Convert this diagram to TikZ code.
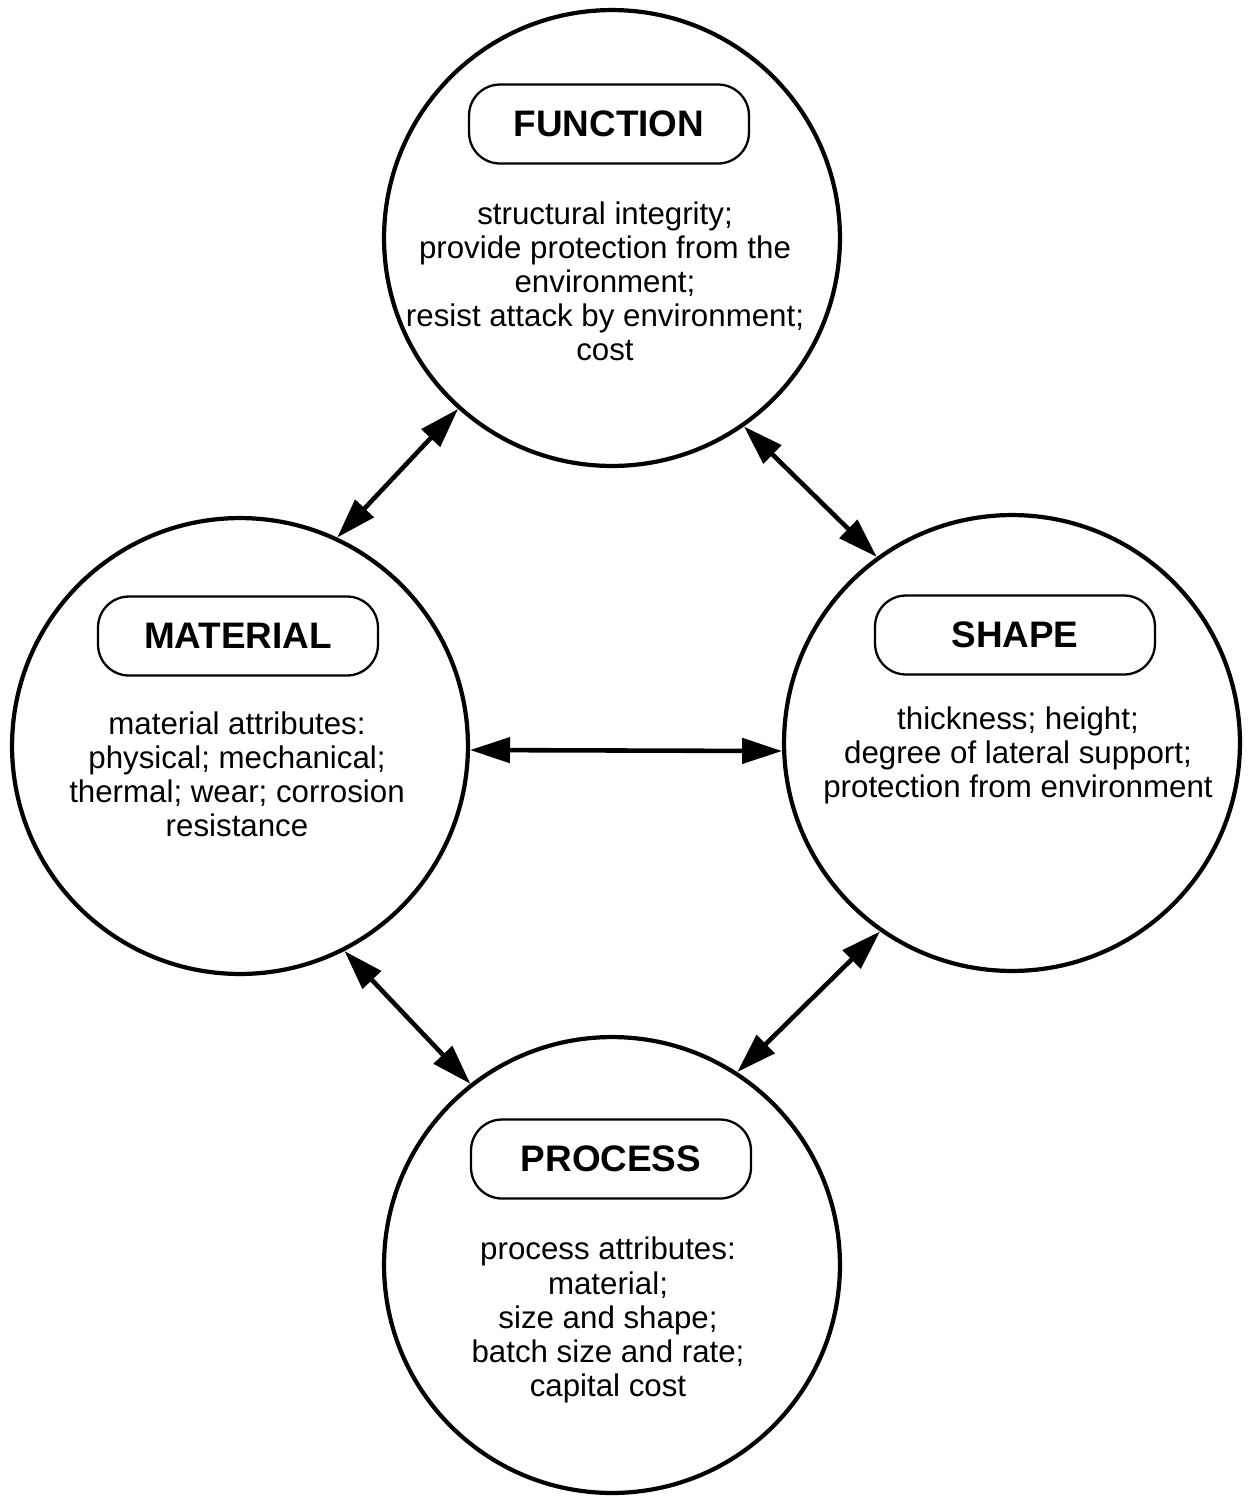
\documentclass[tikz,border=0pt]{standalone}
\usepackage{fontspec}
\setmainfont{Liberation Sans}
\usetikzlibrary{arrows.meta}
\begin{document}
\begin{tikzpicture}[x=0.02cm,y=-0.02cm]

      \useasboundingbox (0,0) rectangle (1252,1499);

      \begin{scope}[every node/.style={circle,draw,line width=2.4pt,minimum size=9.12cm}]
        \node (1) at (612,238)  {};
        \node (2) at (240,746)  {};
        \node (3) at (1012,743) {};
        \node (4) at (612,1265) {};
      \end{scope}

      \begin{scope}[every node/.style={draw,line width=1.3pt,rounded corners=0.62cm,
          minimum width=5.6cm,minimum height=1.58cm,font=\fontsize{21}{25}\selectfont\bfseries}]
        \node (h1) at (609,124)  {FUNCTION};
        \node (h2) at (238,636)  {MATERIAL};
        \node (h3) at (1015,635) {SHAPE};
        \node (h4) at (611,1159) {PROCESS};
      \end{scope}

      \begin{scope}[every node/.style={align=center,font=\fontsize{17.8}{19.4}\selectfont}]
        \node (t1) at (605,281)  {structural integrity;\\provide protection from the\\environment;\\resist attack by environment;\\cost};
        \node (t2) at (237,774)  {material attributes:\\physical; mechanical;\\thermal; wear; corrosion\\resistance};
        \node (t3) at (1018,755) {thickness; height;\\degree of lateral support;\\protection from environment};
        \node (t4) at (608,1320) {process attributes:\\material;\\size and shape;\\batch size and rate;\\capital cost};
      \end{scope}

      \begin{scope}[every edge/.style={draw,line width=2.6pt,
          {Triangle[length=0.8cm,width=0.5cm]}-{Triangle[length=0.8cm,width=0.5cm]}}]
        \path (1.228) edge (2.65);
        \path (1.305) edge (3.126);
        \path (2.-1)  edge (3.182);
        \path (2.297) edge (4.128);
        \path (3.235) edge (4.57);
      \end{scope}

    \end{tikzpicture}
\end{document}
